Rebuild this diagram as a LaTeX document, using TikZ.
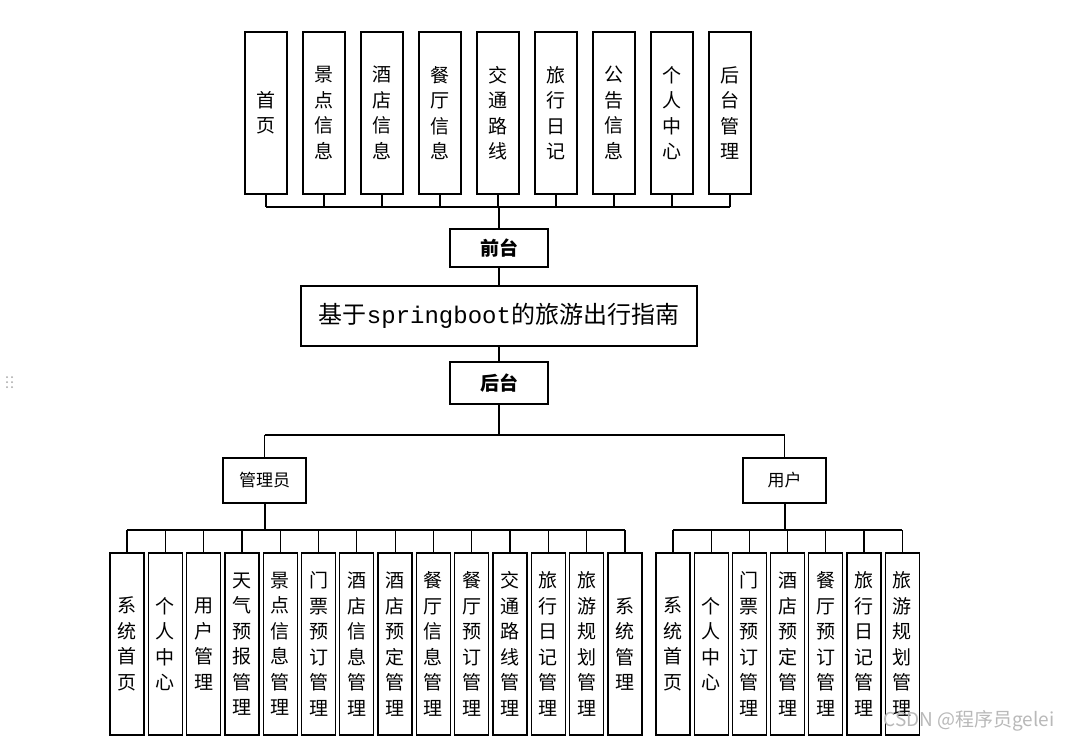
\documentclass[tikz,border=0pt]{standalone}
\usepackage{fontspec}
\setmainfont{Noto Sans CJK SC}
\newfontfamily\monof{Liberation Mono}
\begin{document}
\begin{tikzpicture}[x=1pt,y=-1pt,
  box/.style={draw, line width=1.3pt, inner sep=0pt, align=center, fill=white},
  tbox/.style={box, minimum width=42pt, minimum height=162pt, font=\fontsize{19}{25.5}\selectfont},
  bbox/.style={box, minimum width=34pt, minimum height=182pt, font=\fontsize{19}{25.5}\selectfont},
  conn/.style={line width=1.2pt},
  bus/.style={line width=2pt}]
\path[use as bounding box, fill=white] (0,0) rectangle (1069,742);

% top row
\foreach \t [count=\i from 0] in {首\\页,景\\点\\信\\息,酒\\店\\信\\息,餐\\厅\\信\\息,交\\通\\路\\线,旅\\行\\日\\记,公\\告\\信\\息,个\\人\\中\\心,后\\台\\管\\理}
  \node[tbox] (t\i) at ({266+58*\i},113) {\t};

\node[box, minimum width=98pt, minimum height=38pt, font=\fontsize{19}{22}\selectfont\bfseries] (qt) at (499,248) {前台};
\node[box, minimum width=396pt, minimum height=60pt, font=\fontsize{24}{28}\selectfont] (title) at (499,316) {基于{\monof springboot}的旅游出行指南};
\node[box, minimum width=98pt, minimum height=42pt, font=\fontsize{19}{22}\selectfont\bfseries] (ht) at (499,383) {后台};
\node[box, minimum width=83pt, minimum height=45pt, font=\fontsize{17}{20}\selectfont] (admin) at (264.5,480.5) {管理员};
\node[box, minimum width=83pt, minimum height=45pt, font=\fontsize{17}{20}\selectfont] (user) at (784.5,480.5) {用户};

% admin row
\foreach \t [count=\i from 0] in {系\\统\\首\\页,个\\人\\中\\心,用\\户\\管\\理,天\\气\\预\\报\\管\\理,景\\点\\信\\息\\管\\理,门\\票\\预\\订\\管\\理,酒\\店\\信\\息\\管\\理,酒\\店\\预\\定\\管\\理,餐\\厅\\信\\息\\管\\理,餐\\厅\\预\\订\\管\\理,交\\通\\路\\线\\管\\理,旅\\行\\日\\记\\管\\理,旅\\游\\规\\划\\管\\理,系\\统\\管\\理}
  \node[bbox] (a\i) at ({127+38.3*\i},644) {\t};

% user row
\foreach \t [count=\i from 0] in {系\\统\\首\\页,个\\人\\中\\心,门\\票\\预\\订\\管\\理,酒\\店\\预\\定\\管\\理,餐\\厅\\预\\订\\管\\理,旅\\行\\日\\记\\管\\理,旅\\游\\规\\划\\管\\理}
  \node[bbox] (u\i) at ({673+38.2*\i},644) {\t};

% bus coordinates
\coordinate (tbus) at (499,207);
\coordinate (hbus) at (499,435);
\coordinate (abus) at (264.5,530);
\coordinate (ubus) at (784.5,530);

% top connectors
\foreach \i in {0,...,8} \draw[conn] (t\i.south) -- (t\i.south |- tbus);
\draw[bus] (t0.south |- tbus) -- (t8.south |- tbus);
\draw[bus] (tbus) -- (qt.north);
\draw[bus] (qt.south) -- (title.north);
\draw[bus] (title.south) -- (ht.north);
\draw[bus] (ht.south) -- (hbus);
\draw[bus] (admin.north |- hbus) -- (user.north |- hbus);
\draw[conn] (admin.north |- hbus) -- (admin.north);
\draw[conn] (user.north |- hbus) -- (user.north);

% admin connectors
\draw[bus] (admin.south) -- (abus);
\draw[bus] (a0.north |- abus) -- (a13.north |- abus);
\foreach \i in {0,...,13} \draw[conn] (a\i.north |- abus) -- (a\i.north);

% user connectors
\draw[bus] (user.south) -- (ubus);
\draw[bus] (u0.north |- ubus) -- (u6.north |- ubus);
\foreach \i in {0,...,6} \draw[conn] (u\i.north |- ubus) -- (u\i.north);

% drag handle dots
\foreach \dx in {7,12} \foreach \dy in {377,382,387}
  \fill[gray!70] (\dx,\dy) circle (1pt);

% watermark
\node[text=gray!55, font=\fontsize{19}{22}\selectfont, inner sep=0pt] (wm) at (969,721) {CSDN @程序员gelei};
\end{tikzpicture}
\end{document}
